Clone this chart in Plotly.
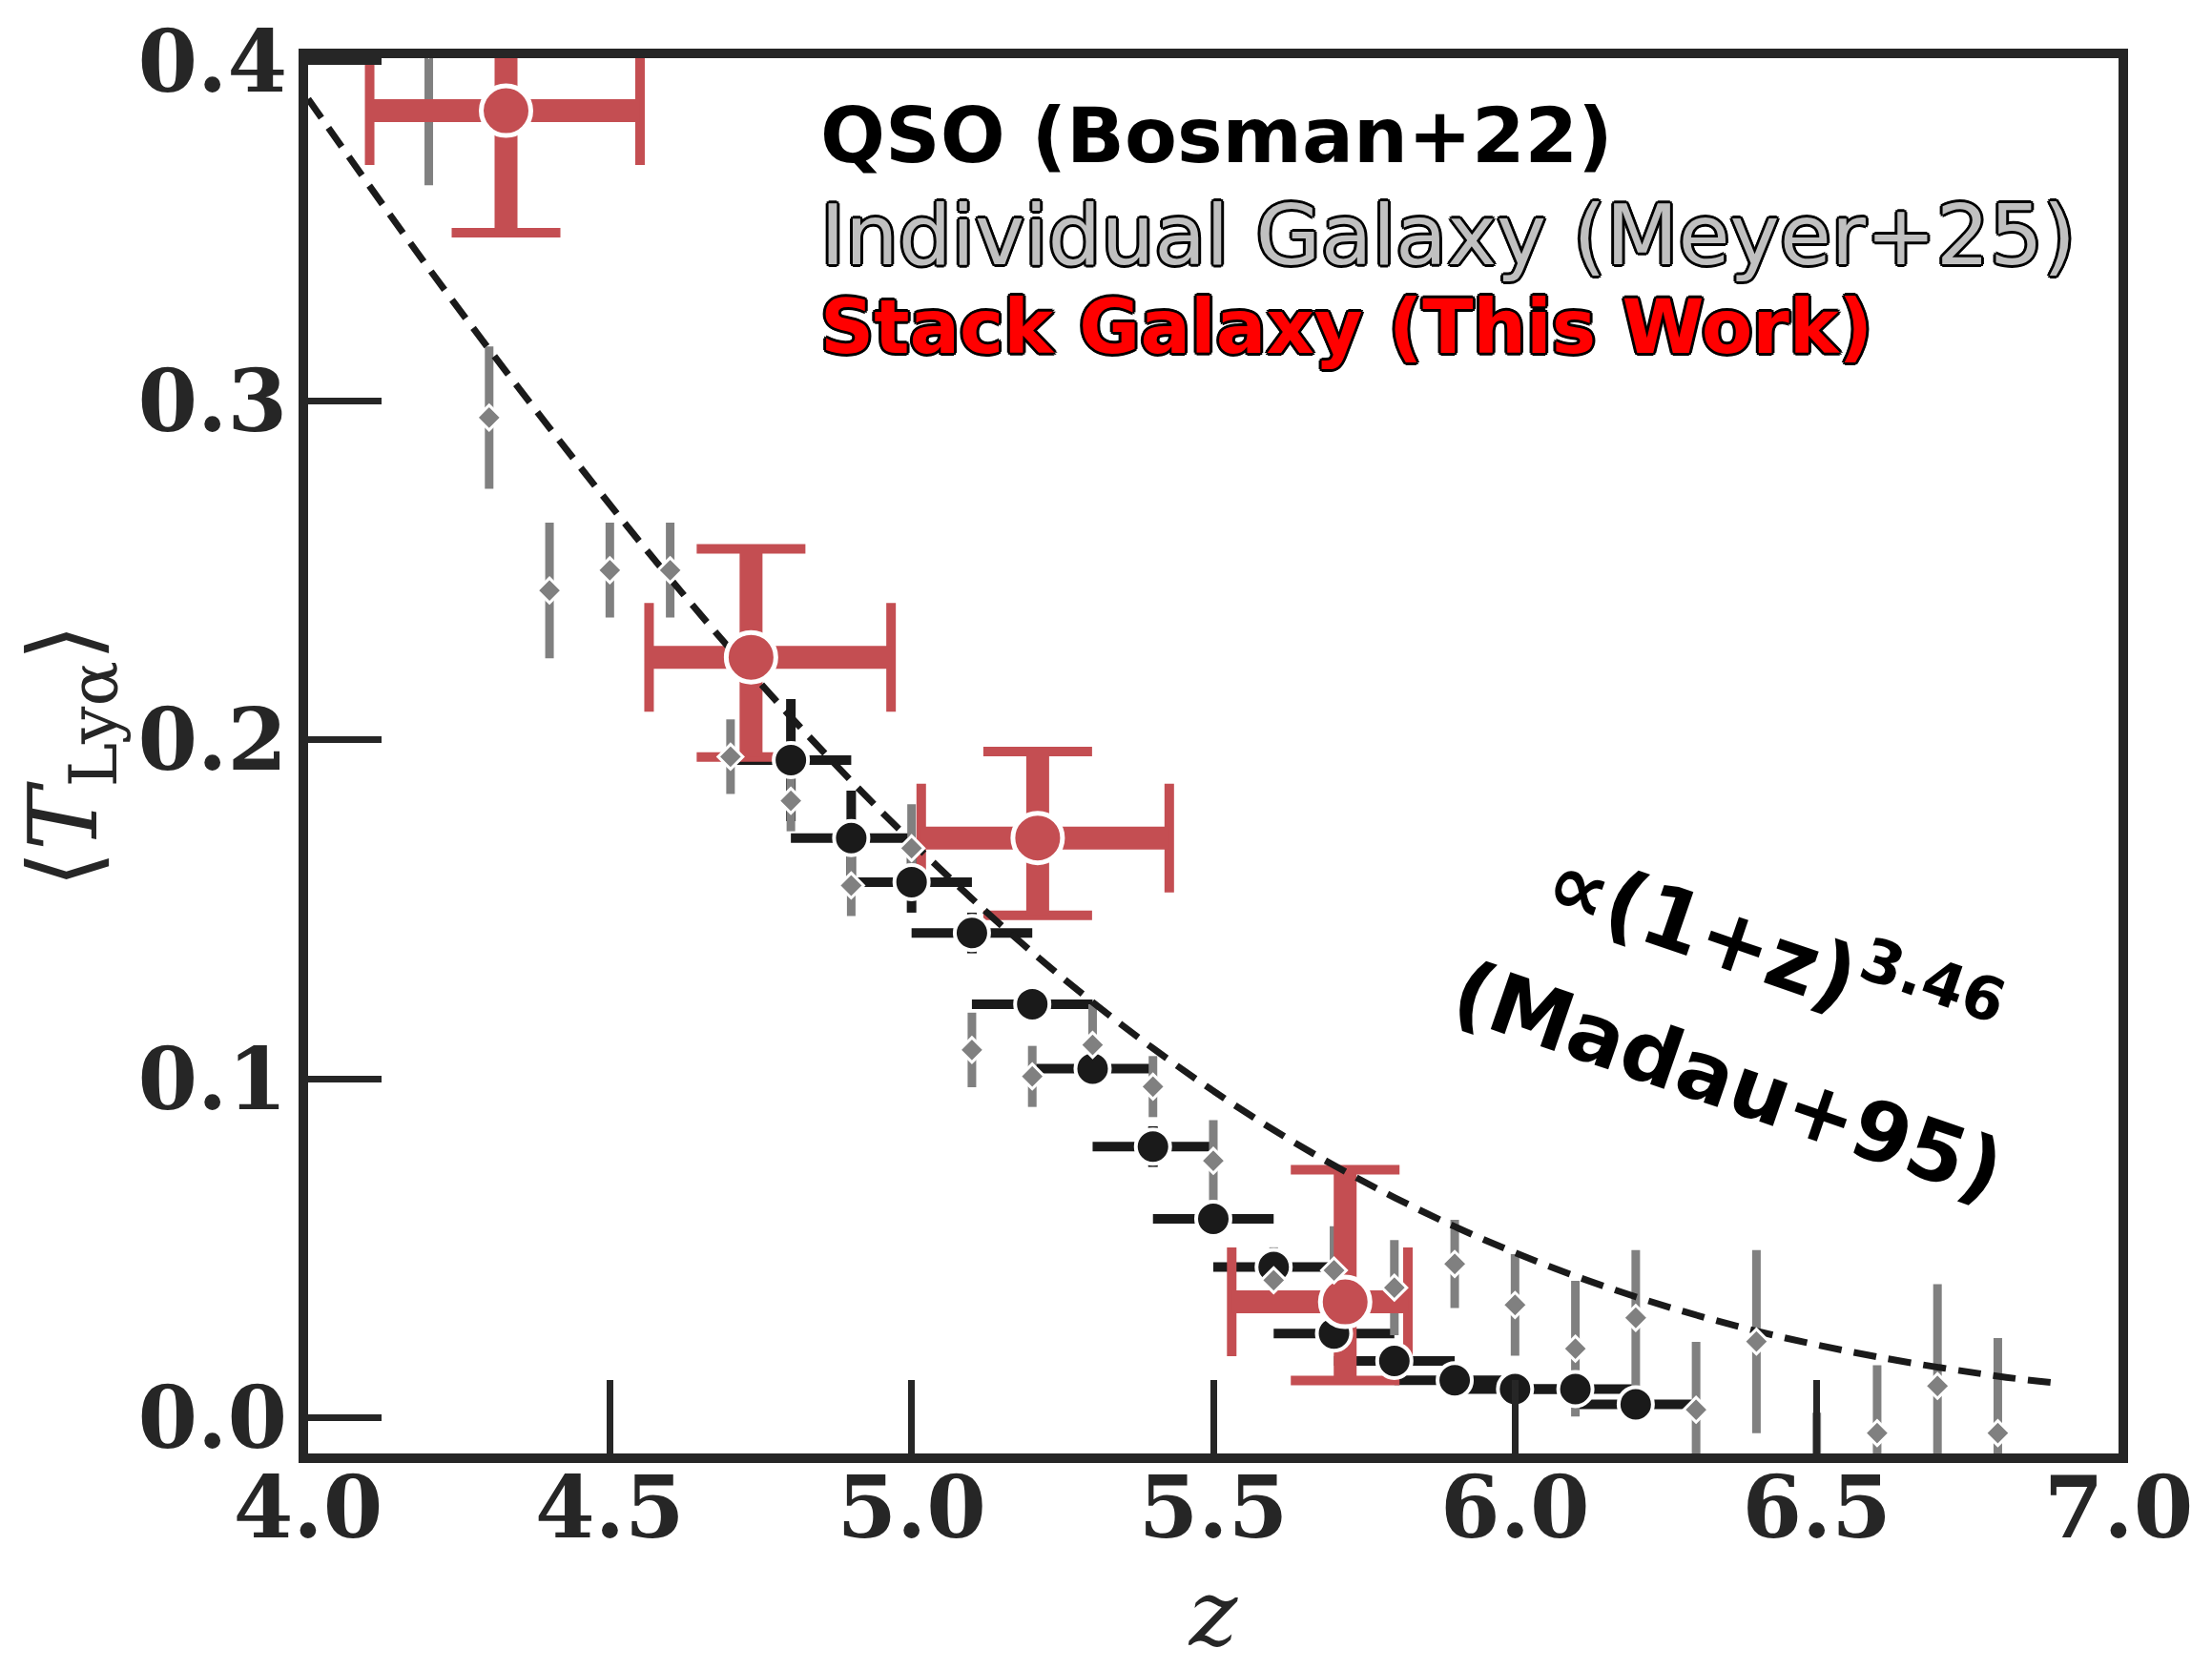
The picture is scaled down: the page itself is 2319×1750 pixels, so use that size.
import plotly.graph_objects as go

# QSO (Bosman+22)
qso_z = [4.8, 4.9, 5.0, 5.1, 5.2, 5.3, 5.4, 5.5, 5.6, 5.7, 5.8, 5.9, 6.0, 6.1, 6.2]
qso_T = [0.194, 0.171, 0.158, 0.143, 0.122, 0.103, 0.080, 0.0587, 0.0445, 0.0249,
         0.0168, 0.0111, 0.0085, 0.0085, 0.0040]
qso_dz = [0.1, 0.1, 0.1, 0.1, 0.1, 0.1, 0.1, 0.1, 0.1, 0.1, 0.1, 0.1, 0.1, 0.1, 0.1]
qso_err = [0.018, 0.014, 0.009, 0.006, 0.005, 0.005, 0.006, 0.004, 0.005, 0.004,
           0.003, 0.002, 0.002, 0.003, 0.002]

# Individual galaxy (Meyer+25)
meyer_z = [4.2, 4.3, 4.4, 4.5, 4.6, 4.7, 4.8, 4.9, 5.0, 5.1, 5.2, 5.3, 5.4, 5.5,
           5.6, 5.7, 5.8, 5.9, 6.0, 6.1, 6.2, 6.3, 6.4, 6.5, 6.6, 6.7, 6.8]
meyer_T = [0.405, 0.295, 0.244, 0.250, 0.250, 0.195, 0.182, 0.157, 0.168, 0.1085,
           0.1007, 0.110, 0.0977, 0.0758, 0.0406, 0.0435, 0.0384, 0.0454, 0.0333,
           0.0204, 0.0295, 0.0024, 0.0225, -0.019, -0.0045, 0.0094, -0.0045]
meyer_err = [0.0415, 0.021, 0.020, 0.014, 0.014, 0.011, 0.009, 0.009, 0.013, 0.011,
             0.009, 0.012, 0.009, 0.012, 0.0097, 0.013, 0.014, 0.013, 0.015, 0.020,
             0.020, 0.020, 0.027, 0.0205, 0.020, 0.030, 0.028]

# Stack galaxy (this work)
stack_z = [4.328, 4.734, 5.209, 5.7185]
stack_T = [0.3855, 0.2243, 0.171, 0.0342]
stack_dz_lo = [0.226, 0.169, 0.193, 0.188]
stack_dz_hi = [0.222, 0.232, 0.218, 0.104]
stack_err_lo = [0.036, 0.0294, 0.0228, 0.0232]
stack_err_hi = [0.036, 0.032, 0.0255, 0.039]

# Madau+95 curve
madau_z = [4.0, 4.2, 4.4, 4.6, 4.8, 5.0, 5.2, 5.4, 5.6, 5.8, 6.0, 6.2, 6.4, 6.6, 6.8, 6.9]
madau_T = [0.389, 0.339, 0.292, 0.2475, 0.2067, 0.170, 0.1373, 0.109, 0.0849, 0.065,
           0.0487, 0.0357, 0.0256, 0.018, 0.0123, 0.0102]

y_ticks = [0.0, 0.1, 0.2, 0.3, 0.4]
x_ticks = [4.0, 4.5, 5.0, 5.5, 6.0, 6.5, 7.0]

BLACK = "#1a1a1a"
GRAY = "#808080"
RED = "#c44e52"
AXIS = "#262626"
OUTLINE = ("3px 0 0 #000, -3px 0 0 #000, 0 3px 0 #000, 0 -3px 0 #000, "
           "2px 2px 0 #000, -2px 2px 0 #000, 2px -2px 0 #000, -2px -2px 0 #000")

fig = go.Figure()

# error bars first
fig.add_trace(go.Scatter(
    x=qso_z, y=qso_T, mode="markers", marker=dict(size=1, opacity=0),
    error_x=dict(type="data", array=qso_dz, color=BLACK, thickness=10, width=0),
    error_y=dict(type="data", array=qso_err, color=BLACK, thickness=10, width=0),
    hoverinfo="skip"))
fig.add_trace(go.Scatter(
    x=meyer_z, y=meyer_T, mode="markers", marker=dict(size=1, opacity=0),
    error_y=dict(type="data", array=meyer_err, color=GRAY, thickness=9, width=0),
    hoverinfo="skip"))
# red caps (thin) then thick bars
fig.add_trace(go.Scatter(
    x=stack_z, y=stack_T, mode="markers", marker=dict(size=1, opacity=0),
    error_x=dict(type="data", symmetric=False, array=stack_dz_hi, arrayminus=stack_dz_lo,
                 color=RED, thickness=10, width=57),
    error_y=dict(type="data", symmetric=False, array=stack_err_hi, arrayminus=stack_err_lo,
                 color=RED, thickness=10, width=57),
    hoverinfo="skip"))
fig.add_trace(go.Scatter(
    x=stack_z, y=stack_T, mode="markers", marker=dict(size=1, opacity=0),
    error_x=dict(type="data", symmetric=False, array=stack_dz_hi, arrayminus=stack_dz_lo,
                 color=RED, thickness=24, width=0),
    error_y=dict(type="data", symmetric=False, array=stack_err_hi, arrayminus=stack_err_lo,
                 color=RED, thickness=24, width=0),
    hoverinfo="skip"))

# Madau curve
fig.add_trace(go.Scatter(
    x=madau_z, y=madau_T, mode="lines",
    line=dict(color=BLACK, width=7, dash="24px,13px", shape="spline", smoothing=1.0)))

# markers on top
fig.add_trace(go.Scatter(
    x=qso_z, y=qso_T, mode="markers",
    marker=dict(symbol="circle", size=36, color=BLACK, line=dict(color="white", width=4))))
fig.add_trace(go.Scatter(
    x=stack_z, y=stack_T, mode="markers",
    marker=dict(symbol="circle", size=52, color=RED, line=dict(color="white", width=5))))
fig.add_trace(go.Scatter(
    x=meyer_z, y=meyer_T, mode="markers",
    marker=dict(symbol="diamond", size=20, color=GRAY, line=dict(color="white", width=3))))

# legend text
fig.add_annotation(x=4.845, y=0.378, xref="x", yref="y", xanchor="left", yanchor="middle",
                   text="QSO (Bosman+22)", showarrow=False,
                   font=dict(family="DejaVu Sans", size=80, color="black", weight="bold"))
fig.add_annotation(x=4.845, y=0.3487, xref="x", yref="y", xanchor="left", yanchor="middle",
                   text="Individual Galaxy (Meyer+25)", showarrow=False,
                   font=dict(family="DejaVu Sans", size=88, color="#c0c0c0", shadow=OUTLINE))
fig.add_annotation(x=4.845, y=0.3217, xref="x", yref="y", xanchor="left", yanchor="middle",
                   text="Stack Galaxy (This Work)", showarrow=False,
                   font=dict(family="DejaVu Sans", size=78, color="#ff0000", weight="bold",
                             shadow=OUTLINE))

# curve label
fig.add_annotation(x=6.43, y=0.1385, xref="x", yref="y", textangle=19,
                   text="∝(1+z)<sup>3.46</sup>", showarrow=False,
                   font=dict(family="DejaVu Sans", size=90, color="black", weight="bold"))
fig.add_annotation(x=6.353, y=0.0995, xref="x", yref="y", textangle=19,
                   text="(Madau+95)", showarrow=False,
                   font=dict(family="DejaVu Sans", size=87, color="black", weight="bold"))

fig.update_xaxes(
    range=[4.0, 7.0], tickvals=x_ticks, ticktext=[f"{v:.1f}" for v in x_ticks],
    ticks="inside", ticklen=77, tickwidth=7, tickcolor=AXIS,
    showline=True, linewidth=10, linecolor=AXIS, mirror=True,
    showgrid=False, zeroline=False, automargin=False, ticklabelstandoff=-30,
    tickfont=dict(family="DejaVu Serif", size=90, color=AXIS, weight="bold"),
    title=dict(text="<i>z</i>", standoff=30,
               font=dict(family="DejaVu Serif", size=96, color=AXIS)))
fig.update_yaxes(
    range=[-0.0105, 0.401], tickvals=y_ticks, ticktext=[f"{v:.1f}" for v in y_ticks],
    ticks="inside", ticklen=77, tickwidth=7, tickcolor=AXIS,
    showline=True, linewidth=10, linecolor=AXIS, mirror=True,
    showgrid=False, zeroline=False, automargin=False, ticklabelstandoff=-6,
    tickfont=dict(family="DejaVu Serif", size=90, color=AXIS, weight="bold"),
    title=dict(text="⟨<i>T</i><sub>Lyα</sub>⟩", standoff=22,
               font=dict(family="DejaVu Serif", size=100, color=AXIS)))

fig.update_layout(
    width=2319, height=1750,
    margin=dict(l=315, r=106, t=53, b=234),
    paper_bgcolor="white", plot_bgcolor="white",
    showlegend=False)

fig.write_html("out.html")
